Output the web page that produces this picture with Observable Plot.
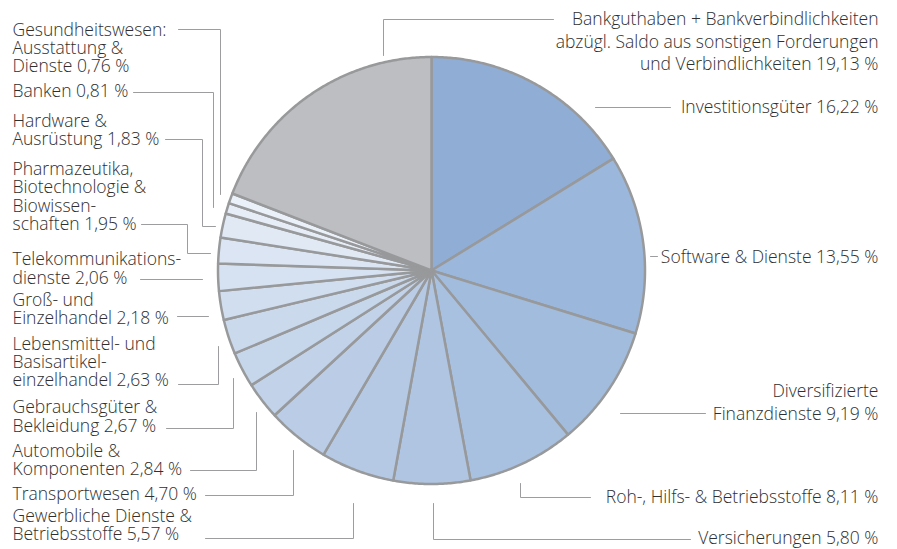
<!DOCTYPE html>
<html><head><meta charset="utf-8">
<script src="https://cdn.jsdelivr.net/npm/d3@7"></script>
<script src="https://cdn.jsdelivr.net/npm/@observablehq/plot@0.6"></script>
<style>html,body{margin:0;padding:0;background:#fff;} svg{display:block;}</style>
</head><body><div id="chart"></div>
<script>
// ---- data (clockwise from 12 o'clock) ----
const sectors = [
  "Investitionsgüter",
  "Software & Dienste",
  "Diversifizierte\nFinanzdienste",
  "Roh-, Hilfs- & Betriebsstoffe",
  "Versicherungen",
  "Gewerbliche Dienste &\nBetriebsstoffe",
  "Transportwesen",
  "Automobile &\nKomponenten",
  "Gebrauchsgüter &\nBekleidung",
  "Lebensmittel- und\nBasisartikel-\neinzelhandel",
  "Groß- und\nEinzelhandel",
  "Telekommunikations-\ndienste",
  "Pharmazeutika,\nBiotechnologie &\nBiowissen-\nschaften",
  "Hardware &\nAusrüstung",
  "Banken",
  "Gesundheitswesen:\nAusstattung &\nDienste",
  "Bankguthaben + Bankverbindlichkeiten\nabzügl. Saldo aus sonstigen Forderungen\nund Verbindlichkeiten"
];
const shares = [16.22, 13.55, 9.19, 8.11, 5.80, 5.57, 4.70, 2.84, 2.67, 2.63, 2.18, 2.06, 1.95, 1.83, 0.81, 0.76, 19.13];

// ---- styles ----
const sliceColors = ["#8fadd5","#9bb7db","#a2bcde","#a9c1e0","#afc5e2","#b5c9e4","#bbcde6","#c1d2e9","#c6d6eb","#cbd9ed","#d1deef","#d6e2f1","#dbe5f3","#e1e9f5","#e6edf7","#ebf1f9","#bdbec1"];

// ---- layout (pixels) ----
const cx = 431, cy = 270, R = 213.5;
const side = ["R","R","R","R","R","L","L","L","L","L","L","L","L","L","L","L","R"];
const labelY = [105.5, 255.5, 401, 495.5, 536.5, 524.5, 493.5, 459.5, 416, 361.5, 308.5, 268, 196, 129.5, 90.5, 47.5, 40];
const leaders = [
  [[670,107],[595,107]],
  [[657,256],[650,256]],
  [[705,413],[620,413]],
  [[590,497],[520,497],[520,483]],
  [[690,539],[433,539],[433,503]],
  [[205,538],[353,538],[353,503]],
  [[205,495],[293,495],[293,450]],
  [[190,470],[256,470],[256,412]],
  [[166,428],[233,428],[233,378]],
  [[178,384],[218,384],[218,346]],
  [[177,316],[208,316]],
  [[140,279],[202,279]],
  [[141,224],[187,224],[187,253],[210,253]],
  [[165,139],[202,139],[202,226],[215,226]],
  [[133,92],[213,92],[213,207]],
  [[178,29],[220,29],[220,194]],
  [[553,19],[383,19],[383,55]]
];

const fmt = v => v.toFixed(2).replace(".", ",") + " %";
const total = d3.sum(shares);

// slice polygons
const slicePts = [];
let acc = 0;
shares.forEach((v, i) => {
  const a0 = acc / total * 2 * Math.PI;
  acc += v;
  const a1 = acc / total * 2 * Math.PI;
  slicePts.push({k: sectors[i], x: cx, y: cy});
  const n = Math.max(2, Math.ceil((a1 - a0) / (Math.PI / 360)));
  for (let j = 0; j <= n; j++) {
    const a = a0 + (a1 - a0) * j / n;
    slicePts.push({k: sectors[i], x: cx + R * Math.sin(a), y: cy - R * Math.cos(a)});
  }
});

const leaderPts = [];
leaders.forEach((pts, i) => pts.forEach(([x, y]) => leaderPts.push({k: i, x, y})));

const labelRows = sectors.map((s, i) => ({
  text: s + " " + fmt(shares[i]),
  side: side[i],
  y: labelY[i],
  x: side[i] === "L" ? 12 : 878
}));

const chart = Plot.plot({
  width: 897, height: 549, margin: 0,
  x: {domain: [0, 897], range: [0, 897], axis: null},
  y: {domain: [0, 549], range: [0, 549], axis: null},
  color: {domain: sectors, range: sliceColors},
  style: {fontFamily: "'Open Sans', sans-serif", background: "#fff"},
  marks: [
    Plot.line(leaderPts, {x: "x", y: "y", z: "k", stroke: "#9d9d9f", strokeWidth: 1}),
    Plot.line(slicePts, {x: "x", y: "y", z: "k", fill: "k", stroke: "#98999b", strokeWidth: 2.5, strokeLinejoin: "round", curve: "linear-closed"}),
    Plot.text(labelRows.filter(d => d.side === "L"), {x: "x", y: "y", text: "text", textAnchor: "start", lineAnchor: "middle", lineHeight: 1.05, fontSize: 17.5, fontWeight: 300, fill: "#2f2f2f"}),
    Plot.text(labelRows.filter(d => d.side === "R"), {x: "x", y: "y", text: "text", textAnchor: "end", lineAnchor: "middle", lineHeight: 1.29, fontSize: 17.5, fontWeight: 300, fill: "#2f2f2f"})
  ]
});
document.getElementById("chart").appendChild(chart);
</script>
</body></html>
